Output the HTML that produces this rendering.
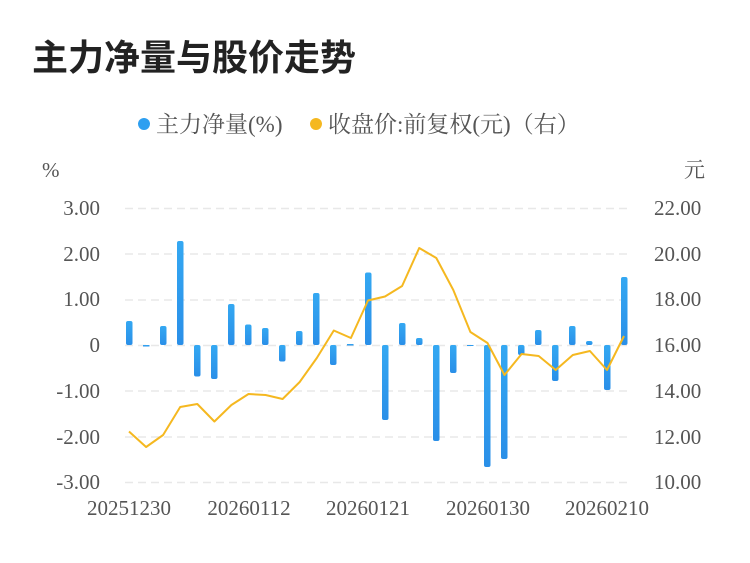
<!DOCTYPE html>
<html><head><meta charset="utf-8"><style>
body{margin:0;background:#fff;}
svg text{font-family:"Liberation Serif","Noto Serif CJK SC",serif;}
</style></head><body>
<svg width="750" height="558" xmlns="http://www.w3.org/2000/svg">
<defs><linearGradient id="g" x1="0" y1="0" x2="0" y2="1"><stop offset="0" stop-color="#34a8f2"/><stop offset="1" stop-color="#2a8fe8"/></linearGradient></defs>
<text x="32" y="70" font-size="36" font-weight="bold" fill="#222" style="font-family:'Liberation Sans','Noto Sans CJK SC',sans-serif">主力净量与股价走势</text>
<circle cx="144" cy="124" r="6" fill="#2e9ff0"/>
<text x="156" y="132" font-size="23" fill="#555">主力净量(%)</text>
<circle cx="316" cy="124" r="6" fill="#f5b820"/>
<text x="328" y="132" font-size="23" fill="#555">收盘价:前复权(元)（右）</text>
<text x="42" y="177" font-size="21" fill="#555">%</text>
<text x="684" y="177" font-size="21" fill="#555">元</text>
<g stroke="#e8e8e8" stroke-width="1.5" stroke-dasharray="8,5">
<line x1="125" x2="628" y1="208.5" y2="208.5"/><line x1="125" x2="628" y1="254" y2="254"/><line x1="125" x2="628" y1="300" y2="300"/><line x1="125" x2="628" y1="345.5" y2="345.5"/><line x1="125" x2="628" y1="391" y2="391"/><line x1="125" x2="628" y1="437" y2="437"/><line x1="125" x2="628" y1="482.5" y2="482.5"/>
</g>
<g font-size="21" fill="#555" text-anchor="end">
<text x="100" y="215">3.00</text><text x="100" y="261">2.00</text><text x="100" y="306">1.00</text><text x="100" y="352">0</text><text x="100" y="398">-1.00</text><text x="100" y="444">-2.00</text><text x="100" y="489">-3.00</text>
</g>
<g font-size="21" fill="#555">
<text x="654" y="215">22.00</text><text x="654" y="261">20.00</text><text x="654" y="306">18.00</text><text x="654" y="352">16.00</text><text x="654" y="398">14.00</text><text x="654" y="444">12.00</text><text x="654" y="489">10.00</text>
</g>
<g font-size="21" fill="#555" text-anchor="middle">
<text x="129" y="515">20251230</text><text x="249" y="515">20260112</text><text x="368" y="515">20260121</text><text x="488" y="515">20260130</text><text x="607" y="515">20260210</text>
</g>
<g fill="url(#g)">
<rect x="126" y="321" width="6.5" height="24" rx="2"/>
<rect x="143" y="345" width="6.5" height="1.5"/>
<rect x="160" y="326" width="6.5" height="19" rx="2"/>
<rect x="177" y="241" width="6.5" height="104" rx="2"/>
<rect x="194" y="345" width="6.5" height="31.5" rx="2"/>
<rect x="211" y="345" width="6.5" height="34" rx="2"/>
<rect x="228" y="304" width="6.5" height="41" rx="2"/>
<rect x="245" y="324.5" width="6.5" height="20.5" rx="2"/>
<rect x="262" y="328" width="6.5" height="17" rx="2"/>
<rect x="279" y="345" width="6.5" height="16.5" rx="2"/>
<rect x="296" y="331" width="6.5" height="14" rx="2"/>
<rect x="313" y="293" width="6.5" height="52" rx="2"/>
<rect x="330" y="345" width="6.5" height="20" rx="2"/>
<rect x="347" y="344" width="6.5" height="1.5"/>
<rect x="365" y="272.5" width="6.5" height="72.5" rx="2"/>
<rect x="382" y="345" width="6.5" height="75" rx="2"/>
<rect x="399" y="323" width="6.5" height="22" rx="2"/>
<rect x="416" y="338" width="6.5" height="7" rx="2"/>
<rect x="433" y="345" width="6.5" height="96" rx="2"/>
<rect x="450" y="345" width="6.5" height="28" rx="2"/>
<rect x="467" y="345" width="6.5" height="1"/>
<rect x="484" y="345" width="6.5" height="122" rx="2"/>
<rect x="501" y="345" width="6.5" height="114" rx="2"/>
<rect x="518" y="345" width="6.5" height="10" rx="2"/>
<rect x="535" y="330" width="6.5" height="15" rx="2"/>
<rect x="552" y="345" width="6.5" height="36" rx="2"/>
<rect x="569" y="326" width="6.5" height="19" rx="2"/>
<rect x="586" y="341" width="6.5" height="4" rx="2"/>
<rect x="604" y="345" width="6.5" height="45" rx="2"/>
<rect x="621" y="277" width="6.5" height="68" rx="2"/>
</g>
<polyline fill="none" stroke="#f5b820" stroke-width="2" stroke-linejoin="round" points="129,431.5 146.1,447 163.1,435 180.2,407 197.3,404 214.4,421.5 231.4,405 248.5,394 265.6,395 282.6,399 299.7,382 316.8,358 333.8,330.5 350.9,338 368,300.5 385,296.5 402.1,286 419.2,248 436.3,258 453.3,290 470.4,332 487.5,343 504.5,375 521.6,354 538.7,356 555.7,370 572.8,355 589.9,351 607,370 624,336"/>
</svg>
</body></html>
